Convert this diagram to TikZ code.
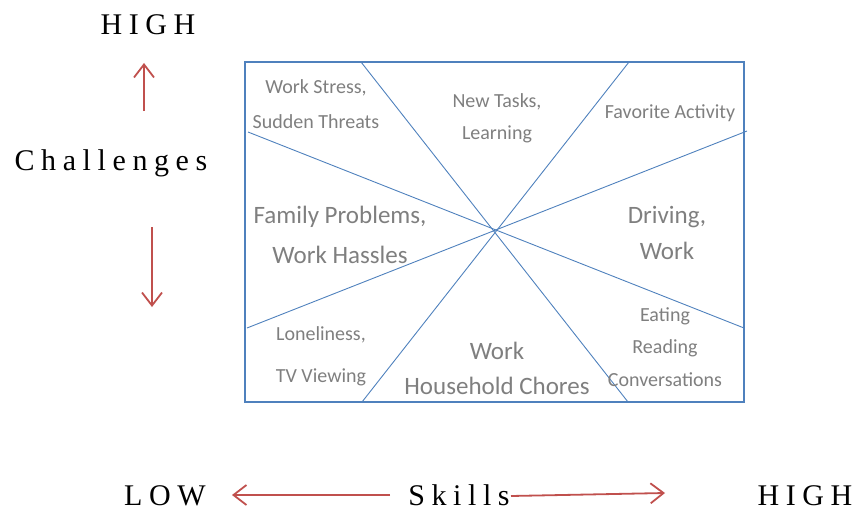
\documentclass[tikz,border=0pt]{standalone}
\usepackage{fontspec}
\usepackage{tikz}
\usetikzlibrary{arrows.meta}
\newfontfamily\axisfont[LetterSpace=22]{Liberation Serif}
\newfontfamily\cellfont{Carlito}
\definecolor{axisred}{HTML}{C0504D}
\definecolor{gridblue}{HTML}{4F81BD}
\definecolor{cellgray}{HTML}{7F7F7F}
\tikzset{
    axislabel/.style={
           inner sep=0pt,
           anchor=base,
           font={\axisfont\fontsize{30}{30}\selectfont},
           },
    cell/.style={
           inner sep=0pt,
           align=center,
           text=cellgray,
           },
    smallcell/.style={cell, font={\cellfont\fontsize{20}{#1}\selectfont}},
    smallcell/.default=33,
    largecell/.style={cell, font={\cellfont\fontsize{25}{#1}\selectfont}},
    largecell/.default=38,
    frame/.style={draw=gridblue, line width=1.8pt},
    divider/.style={draw=gridblue, line width=0.9pt},
    pointer/.style={draw=axisred, line width=1.8pt, -{Straight Barb[length=13pt,width=20pt,line width=1.8pt]}},
}

\begin{document}
\begin{tikzpicture}[x=1pt,y=-1pt]
\useasboundingbox (0,0) rectangle (857,511);

% axis labels
\node[axislabel] (HIGHCHAL) at (148,35) {HIGH};
\node[axislabel] (CHALLENGES) at (111,170) {Challenges};
\node[axislabel] (LOW) at (165,505) {LOW};
\node[axislabel] (SKILLS) at (459,505) {Skills};
\node[axislabel] (HIGHSKILL) at (805,505) {HIGH};

% frame and the four dividers through the middle
\draw[frame] (245,62) rectangle (744,402);
\coordinate (TOPA) at (361,62);   \coordinate (BOTA) at (628,402);
\coordinate (TOPB) at (629,62);   \coordinate (BOTB) at (362,402);
\coordinate (LEFTA) at (248,132); \coordinate (RIGHTA) at (744,328);
\coordinate (LEFTB) at (247,328); \coordinate (RIGHTB) at (747,131);
\draw[divider] (TOPA) -- (BOTA);
\draw[divider] (TOPB) -- (BOTB);
\draw[divider] (LEFTA) -- (RIGHTA);
\draw[divider] (LEFTB) -- (RIGHTB);

% cell texts
\node[smallcell=35] (STRESS) at (316,104) {Work Stress,\\Sudden Threats};
\node[smallcell=32] (TASKS) at (497,118) {New Tasks,\\Learning};
\node[smallcell, anchor=base] (FAVORITE) at (670,118) {Favorite Activity};
\node[largecell=40] (FAMILY) at (340,235) {Family Problems,\\Work Hassles};
\node[largecell=36] (DRIVING) at (667,233) {Driving,\\Work};
\node[smallcell=42] (LONELY) at (321,356) {Loneliness,\\TV Viewing};
\node[largecell=35] (CHORES) at (497,368) {Work\\Household Chores};
\node[smallcell=32.5] (EATING) at (665,347) {Eating\\Reading\\Conversations};

% red arrows
\coordinate (UPTAIL) at (144,111);   \coordinate (UPTIP) at (144,63);
\coordinate (DOWNTAIL) at (152,227); \coordinate (DOWNTIP) at (152,307);
\coordinate (LEFTTAIL) at (390,495); \coordinate (LEFTTIP) at (232,495);
\coordinate (RIGHTTAIL) at (511,496); \coordinate (RIGHTTIP) at (665,493);
\draw[pointer] (UPTAIL) -- (UPTIP);
\draw[pointer] (DOWNTAIL) -- (DOWNTIP);
\draw[pointer] (LEFTTAIL) -- (LEFTTIP);
\draw[pointer] (RIGHTTAIL) -- (RIGHTTIP);

\end{tikzpicture}
\end{document}
